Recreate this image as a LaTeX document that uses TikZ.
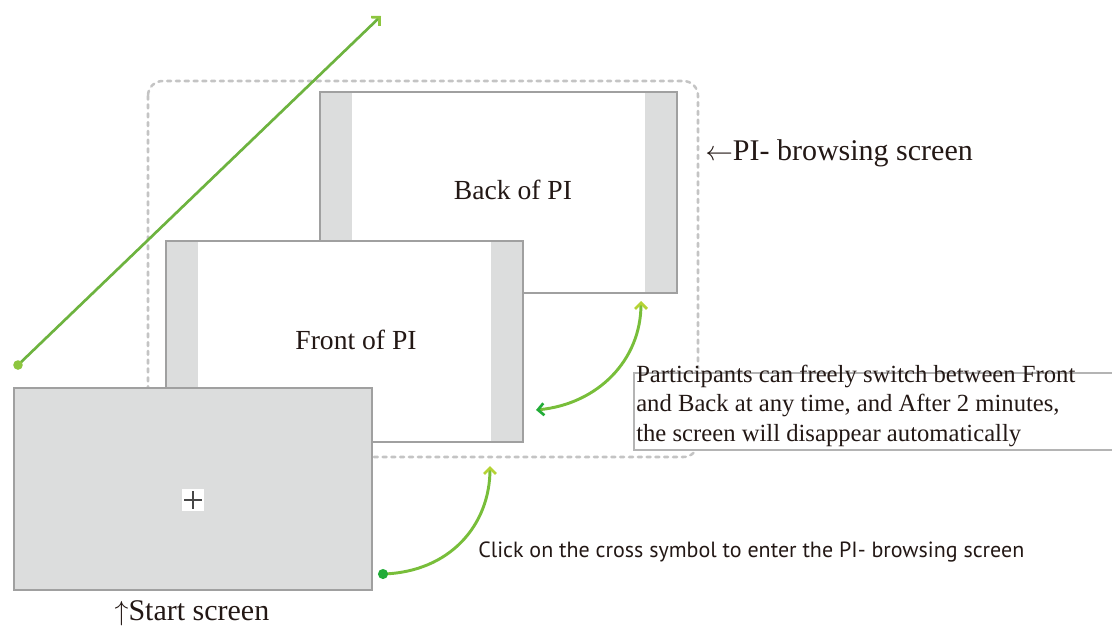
\documentclass[tikz,border=0pt]{standalone}
\usepackage{fontspec}
\setmainfont{Liberation Serif}
\setsansfont{PT Sans}
\usetikzlibrary{arrows.meta,calc}
\definecolor{screenfill}{HTML}{DCDDDD}
\definecolor{screenline}{HTML}{A0A0A0}
\definecolor{dashgray}{HTML}{C4C4C4}
\definecolor{notegray}{HTML}{B4B4B4}
\definecolor{inkblack}{HTML}{231815}
\definecolor{leafgreen}{HTML}{6DB33F}
\definecolor{lightleaf}{HTML}{8DC63F}
\definecolor{deepgreen}{HTML}{22AC38}
\definecolor{limegreen}{HTML}{B5D334}
\definecolor{midgreen}{HTML}{78BE3A}
\begin{document}
\begin{tikzpicture}[x=0.75pt, y=-0.75pt, text=inkblack]
\tikzstyle{screen}=[draw=screenline, line width=1.5pt, minimum width=268pt, minimum height=151pt, inner sep=0pt, outer sep=0pt]
\tikzstyle{pipage}=[screen, fill=white, path picture={
  \fill[screenfill] (path picture bounding box.north west) rectangle ([xshift=24pt]path picture bounding box.south west);
  \fill[screenfill] (path picture bounding box.north east) rectangle ([xshift=-24pt]path picture bounding box.south east);}]
\tikzstyle{startpage}=[screen, fill=screenfill]
\tikzstyle{pilabel}=[font=\fontsize{20.7}{24}\selectfont, inner sep=0pt]
\tikzstyle{biglabel}=[font=\fontsize{22.5}{26}\selectfont, inner sep=0pt]
\tikzstyle{note}=[font=\fontsize{18.5}{22}\selectfont, align=left, inner sep=0pt]
\tikzstyle{hint}=[font=\sffamily\fontsize{16.5}{19}\selectfont, inner sep=0pt]
\tikzstyle{greencurve}=[line width=2.2pt, color=midgreen]
\useasboundingbox (0,0) rectangle (1112,626);
% frame round the PI- browsing screen
\draw[dashgray, line width=1.9pt, line cap=round, dash pattern=on 3pt off 3.6pt, rounded corners=11pt] (148,81) rectangle (698,457);
\node[pipage] (back) at (498.5,192.5) {};
\node[pipage] (front) at (344.5,341.5) {};
\node[startpage] (start) at (193,489) {};
\node[fill=white, minimum size=16.5pt, inner sep=0pt] (cross) at (193,499.5) {};
\draw[black!72, line width=1.5pt] ([xshift=-6.75pt]cross.center) -- ([xshift=6.75pt]cross.center);
\draw[black!72, line width=1.5pt] ([yshift=-6.75pt]cross.center) -- ([yshift=6.75pt]cross.center);
\node[pilabel] (backtxt) at (513,190) {Back of PI};
\node[pilabel] (fronttxt) at (356,340) {Front of PI};
\node[biglabel] (starttxt) at (192,613) {$\uparrow$Start screen};
\node[biglabel, anchor=west] (browsetxt) at (705,153) {$\leftarrow$PI- browsing screen};
% note box on the right
\fill[white] (634,369) rectangle (1112,450);
\draw[notegray, line width=0.8pt] (1112,373) -| (634,450) -- (1112,450);
\node[note, anchor=north west] (switchnote) at (636,365) {Participants can freely switch between Front\\and Back at any time, and After 2 minutes,\\the screen will disappear automatically};
\node[hint, anchor=base west] (clicktxt) at (478,557) {Click on the cross symbol to enter the PI- browsing screen};
% green arrows
\coordinate (diagstart) at (18,365);
\coordinate (diagend) at (381,16);
\draw[leafgreen, line width=2pt, -{Straight Barb[length=4.5pt, width=9pt, line width=2pt, color=lightleaf]}] (diagstart) -- (diagend);
\fill[lightleaf] (diagstart) circle[radius=3.6pt];
\coordinate (clickdot) at (383,574);
\coordinate (pientry) at (490,466);
\draw[greencurve, -{Straight Barb[length=4.5pt, width=9pt, line width=2pt, color=limegreen]}] (clickdot) .. controls (450,572) and (490,525) .. (pientry);
\fill[deepgreen] (clickdot) circle[radius=3.8pt];
\coordinate (fronttip) at (536,410);
\coordinate (backtip) at (641,301);
\draw[greencurve, {Straight Barb[length=4.5pt, width=9pt, line width=2pt, color=deepgreen]}-{Straight Barb[length=4.5pt, width=9pt, line width=2pt, color=limegreen]}] (fronttip) .. controls (598,404) and (641,360) .. (backtip);
\end{tikzpicture}
\end{document}
